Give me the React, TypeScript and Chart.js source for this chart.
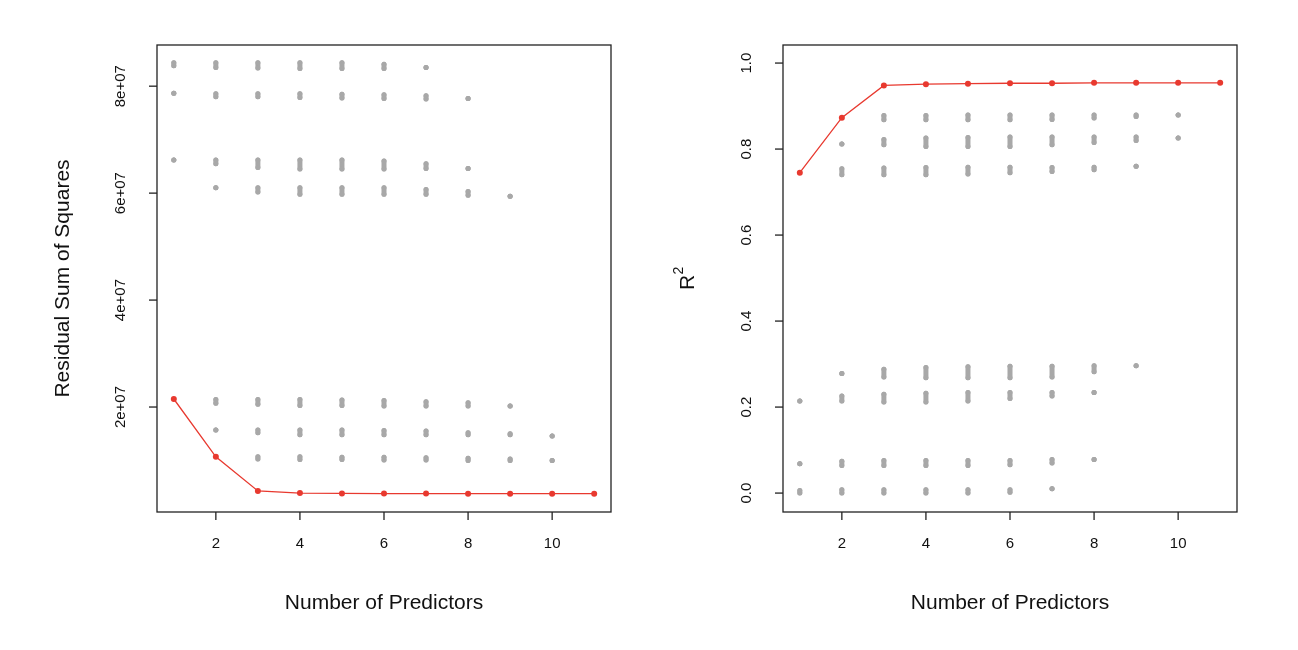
import { Chart, registerables, type ChartConfiguration } from 'chart.js'
import { useEffect, useRef } from 'react'

Chart.register(...registerables)

const predictors = [1, 2, 3, 4, 5, 6, 7, 8, 9, 10, 11]

// best model per size
const rssBest = [2.15e7, 1.07e7, 0.43e7, 0.39e7, 0.385e7, 0.382e7, 0.381e7, 0.38e7, 0.38e7, 0.38e7, 0.38e7]
const r2Best = [0.745, 0.873, 0.948, 0.951, 0.952, 0.953, 0.953, 0.954, 0.954, 0.954, 0.954]

// grey clusters of all subsets: [size, low, high]
const rssClusters: [number, number, number][] = [
  [1, 8.38e7, 8.44e7], [2, 8.35e7, 8.44e7], [3, 8.34e7, 8.44e7], [4, 8.33e7, 8.44e7], [5, 8.33e7, 8.44e7], [6, 8.33e7, 8.41e7], [7, 8.35e7, 8.35e7],
  [1, 7.87e7, 7.87e7], [2, 7.8e7, 7.86e7], [3, 7.8e7, 7.86e7], [4, 7.79e7, 7.86e7], [5, 7.78e7, 7.85e7], [6, 7.77e7, 7.84e7], [7, 7.76e7, 7.82e7], [8, 7.77e7, 7.77e7],
  [1, 6.62e7, 6.62e7], [2, 6.55e7, 6.62e7], [3, 6.48e7, 6.62e7], [4, 6.45e7, 6.62e7], [5, 6.45e7, 6.62e7], [6, 6.45e7, 6.6e7], [7, 6.46e7, 6.55e7], [8, 6.46e7, 6.46e7],
  [2, 6.1e7, 6.1e7], [3, 6.02e7, 6.1e7], [4, 5.98e7, 6.1e7], [5, 5.98e7, 6.1e7], [6, 5.98e7, 6.1e7], [7, 5.98e7, 6.07e7], [8, 5.96e7, 6.03e7], [9, 5.94e7, 5.94e7],
  [2, 2.07e7, 2.14e7], [3, 2.05e7, 2.14e7], [4, 2.03e7, 2.14e7], [5, 2.03e7, 2.13e7], [6, 2.02e7, 2.12e7], [7, 2.02e7, 2.1e7], [8, 2.02e7, 2.08e7], [9, 2.02e7, 2.02e7],
  [2, 1.57e7, 1.57e7], [3, 1.52e7, 1.57e7], [4, 1.48e7, 1.57e7], [5, 1.48e7, 1.57e7], [6, 1.48e7, 1.56e7], [7, 1.48e7, 1.55e7], [8, 1.48e7, 1.52e7], [9, 1.48e7, 1.5e7], [10, 1.46e7, 1.46e7],
  [3, 1.03e7, 1.07e7], [4, 1.02e7, 1.07e7], [5, 1.02e7, 1.06e7], [6, 1.01e7, 1.06e7], [7, 1.01e7, 1.05e7], [8, 1.0e7, 1.04e7], [9, 1.0e7, 1.03e7], [10, 1.0e7, 1.0e7],
]

const r2Clusters: [number, number, number][] = [
  [3, 0.868, 0.878], [4, 0.868, 0.878], [5, 0.868, 0.879], [6, 0.868, 0.879], [7, 0.869, 0.879], [8, 0.872, 0.879], [9, 0.876, 0.879], [10, 0.879, 0.879],
  [2, 0.812, 0.812], [3, 0.81, 0.822], [4, 0.806, 0.826], [5, 0.806, 0.827], [6, 0.806, 0.828], [7, 0.81, 0.828], [8, 0.815, 0.828], [9, 0.82, 0.828], [10, 0.826, 0.826],
  [2, 0.74, 0.754], [3, 0.74, 0.756], [4, 0.74, 0.757], [5, 0.742, 0.758], [6, 0.745, 0.758], [7, 0.748, 0.757], [8, 0.752, 0.758], [9, 0.76, 0.76],
  [2, 0.278, 0.278], [3, 0.27, 0.288], [4, 0.268, 0.292], [5, 0.268, 0.294], [6, 0.268, 0.295], [7, 0.27, 0.295], [8, 0.282, 0.296], [9, 0.296, 0.296],
  [1, 0.214, 0.214], [2, 0.214, 0.226], [3, 0.212, 0.23], [4, 0.212, 0.232], [5, 0.214, 0.234], [6, 0.22, 0.234], [7, 0.226, 0.234], [8, 0.234, 0.234],
  [1, 0.068, 0.068], [2, 0.064, 0.074], [3, 0.064, 0.076], [4, 0.064, 0.076], [5, 0.064, 0.076], [6, 0.066, 0.076], [7, 0.07, 0.078], [8, 0.078, 0.078],
  [1, 0.0, 0.006], [2, 0.0, 0.008], [3, 0.0, 0.008], [4, 0.0, 0.008], [5, 0.0, 0.008], [6, 0.002, 0.008], [7, 0.01, 0.01],
]

const xTicks = [2, 4, 6, 8, 10]
const rssTicks = [2e7, 4e7, 6e7, 8e7]
const rssTickLabels = ['2e+07', '4e+07', '6e+07', '8e+07']
const r2Ticks = [0, 0.2, 0.4, 0.6, 0.8, 1.0]
const r2TickLabels = ['0.0', '0.2', '0.4', '0.6', '0.8', '1.0']

const FONT = '"Liberation Sans", Arial, sans-serif'

type Panel = {
  best: number[]
  clusters: [number, number, number][]
  yMin: number
  yMax: number
  yTicks: number[]
  yLabels: string[]
  yTitle: string
  titleX: number
  padRight: number
  padLeft: number
}

// each cluster becomes a short vertical segment; nulls break the line between clusters
function clusterSegments(clusters: [number, number, number][]) {
  const pts: { x: number; y: number | null }[] = []
  clusters.forEach(([k, lo, hi]) => {
    pts.push({ x: k, y: lo })
    pts.push({ x: k, y: hi })
    pts.push({ x: k, y: null })
  })
  return pts
}

function makeConfig(p: Panel): ChartConfiguration<'scatter'> {
  const axesPlugin = {
    id: 'rAxes',
    afterDraw(chart: Chart) {
      const { ctx, chartArea: a } = chart
      const xs = chart.scales.x
      const ys = chart.scales.y
      ctx.save()
      ctx.strokeStyle = '#222'
      ctx.lineWidth = 1.3
      ctx.strokeRect(a.left, a.top, a.right - a.left, a.bottom - a.top)
      ctx.fillStyle = '#111'
      ctx.font = `15px ${FONT}`
      ctx.textAlign = 'center'
      ctx.textBaseline = 'middle'
      xTicks.forEach((t) => {
        const x = xs.getPixelForValue(t)
        ctx.beginPath()
        ctx.moveTo(x, a.bottom)
        ctx.lineTo(x, a.bottom + 8)
        ctx.stroke()
        ctx.fillText(String(t), x, a.bottom + 32)
      })
      p.yTicks.forEach((t, i) => {
        const y = ys.getPixelForValue(t)
        ctx.beginPath()
        ctx.moveTo(a.left, y)
        ctx.lineTo(a.left - 8, y)
        ctx.stroke()
        ctx.save()
        ctx.translate(a.left - 36, y)
        ctx.rotate(-Math.PI / 2)
        ctx.fillText(p.yLabels[i], 0, 0)
        ctx.restore()
      })
      ctx.font = `21px ${FONT}`
      ctx.fillText('Number of Predictors', (a.left + a.right) / 2, 603)
      ctx.save()
      ctx.translate(p.titleX, (a.top + a.bottom) / 2)
      ctx.rotate(-Math.PI / 2)
      if (p.yTitle === 'R2') {
        ctx.fillText('R', -4, 0)
        ctx.font = `14px ${FONT}`
        ctx.fillText('2', 8, -9)
      } else {
        ctx.fillText(p.yTitle, 0, 0)
      }
      ctx.restore()
      ctx.restore()
    },
  }

  return {
    type: 'scatter',
    data: {
      datasets: [
        {
          data: predictors.map((k, i) => ({ x: k, y: p.best[i] })),
          showLine: true,
          borderColor: '#e8392f',
          backgroundColor: '#e8392f',
          borderWidth: 1.3,
          pointRadius: 3,
          pointBorderWidth: 0,
        },
        {
          data: clusterSegments(p.clusters) as any,
          showLine: true,
          spanGaps: false,
          borderColor: '#a8a8a8',
          backgroundColor: '#a8a8a8',
          borderWidth: 5,
          borderCapStyle: 'round',
          pointRadius: 2.5,
          pointBorderWidth: 0,
        },
      ],
    },
    options: {
      animation: false,
      responsive: false,
      layout: { padding: { left: p.padLeft, right: p.padRight, top: 45, bottom: 138 } },
      plugins: { legend: { display: false }, tooltip: { enabled: false } },
      scales: {
        x: { type: 'linear', min: 0.6, max: 11.4, display: false },
        y: { type: 'linear', min: p.yMin, max: p.yMax, display: false },
      },
    },
    plugins: [axesPlugin],
  }
}

function Panel({ panel, left }: { panel: Panel; left: number }) {
  const ref = useRef<HTMLCanvasElement | null>(null)
  useEffect(() => {
    if (!ref.current) return
    const chart = new Chart(ref.current, makeConfig(panel))
    return () => chart.destroy()
  }, [panel])
  return <canvas ref={ref} width={649} height={650} style={{ position: 'absolute', left, top: 0 }} />
}

const leftPanel: Panel = {
  best: rssBest,
  clusters: rssClusters,
  yMin: 0.37e6,
  yMax: 8.77e7,
  yTicks: rssTicks,
  yLabels: rssTickLabels,
  yTitle: 'Residual Sum of Squares',
  titleX: 63,
  padLeft: 157,
  padRight: 38,
}

const rightPanel: Panel = {
  best: r2Best,
  clusters: r2Clusters,
  yMin: -0.044,
  yMax: 1.042,
  yTicks: r2Ticks,
  yLabels: r2TickLabels,
  yTitle: 'R2',
  titleX: 39,
  padLeft: 134,
  padRight: 61,
}

export default function App() {
  return (
    <div style={{ position: 'fixed', left: 0, top: 0, width: 1298, height: 650, background: '#fff' }}>
      <Panel panel={leftPanel} left={0} />
      <Panel panel={rightPanel} left={649} />
    </div>
  )
}
